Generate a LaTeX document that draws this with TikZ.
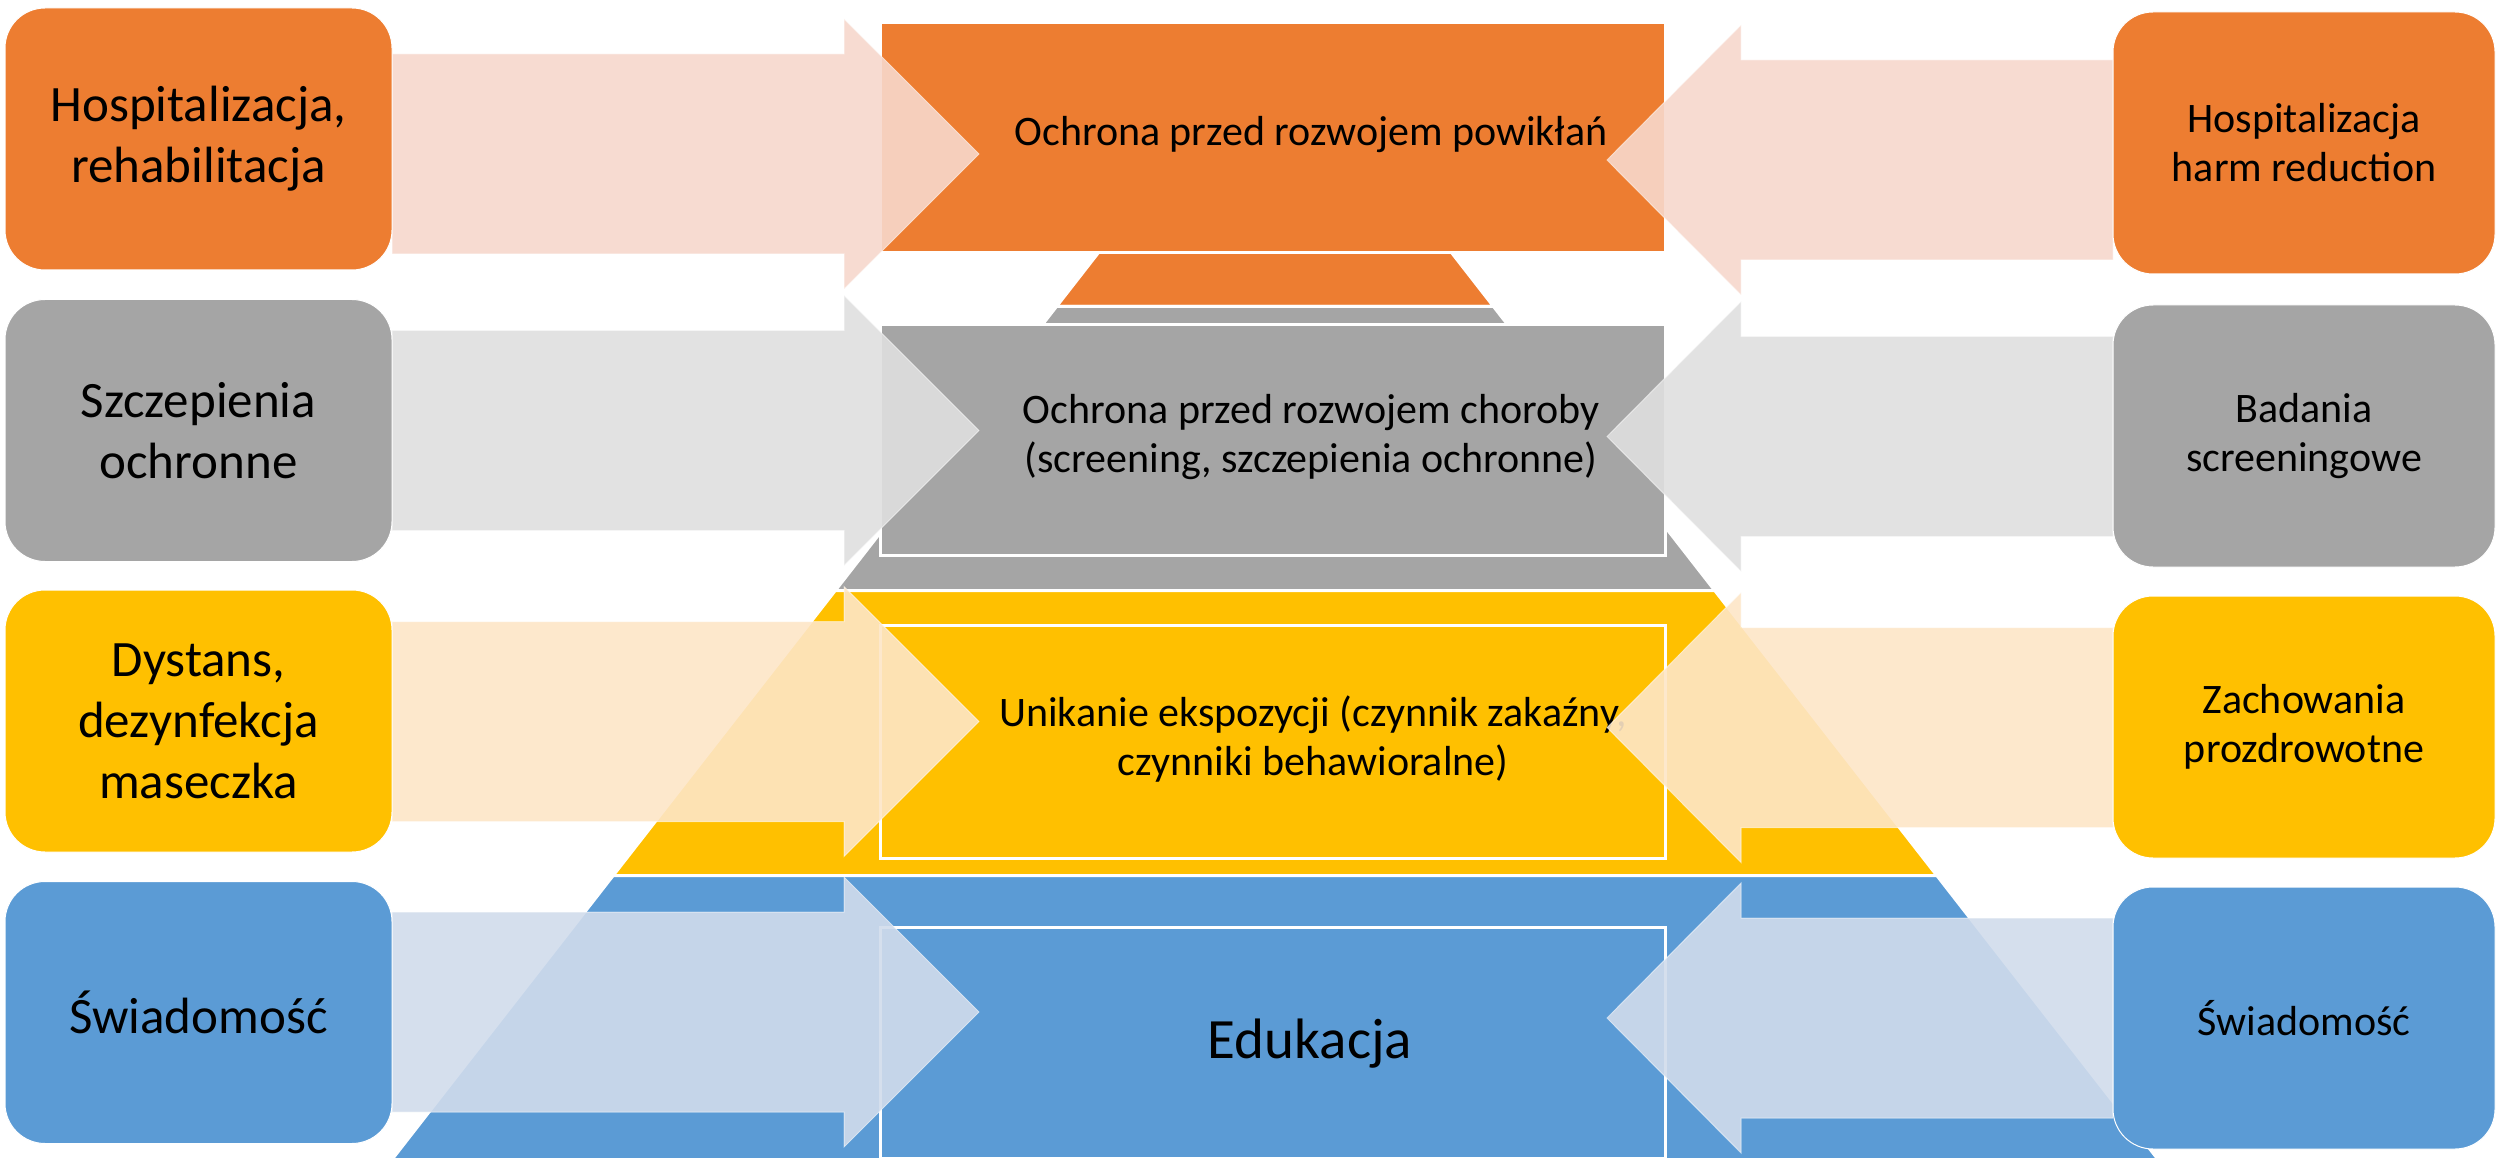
\documentclass[tikz,border=0pt]{standalone}
\usepackage{fontspec}
\setmainfont{Carlito}
\definecolor{cOr}{HTML}{ED7D31}
\definecolor{cGr}{HTML}{A5A5A5}
\definecolor{cYe}{HTML}{FFC000}
\definecolor{cBl}{HTML}{5B9BD5}
\definecolor{aOr}{HTML}{F7D8CC}
\definecolor{aGr}{HTML}{DFDFDF}
\definecolor{aYe}{HTML}{FDE6C7}
\definecolor{aBl}{HTML}{D1DCEC}
\begin{document}
\begin{tikzpicture}[x=0.5pt,y=-0.5pt,
  band/.style={draw=white,line width=1.5pt,line join=miter},
  centerrect/.style={draw=white,line width=1.5pt,inner sep=0pt,outer sep=0pt,minimum width=392.5pt,minimum height=115pt},
  sidebox/.style={draw=white,line width=0.5pt,rounded corners=20pt,inner sep=0pt,outer sep=0pt,minimum height=131pt,align=center,text=black},
  leftbox/.style={sidebox,minimum width=193.5pt,font=\fontsize{25.5}{30.5}\selectfont},
  rightbox/.style={sidebox,minimum width=191pt,font=\fontsize{21}{24.5}\selectfont},
  ctext/.style={align=center,inner sep=0pt,font=\fontsize{21}{24.5}\selectfont},
  blockarrow/.style={fill opacity=0.9,draw=white,draw opacity=0.5,line width=0.5pt,line join=miter}
]
\useasboundingbox (0,0) rectangle (2509,1160);
\fill[white] (0,0) rectangle (2509,1160);

% pyramid bands
\fill[band,fill=cOr] (1275,26) -- (1493.5,306.5) -- (1056.5,306.5) -- cycle;
\fill[band,fill=cGr] (1056.5,306.5) -- (1493.5,306.5) -- (1714.7,590.5) -- (835.3,590.5) -- cycle;
\fill[band,fill=cYe] (835.3,590.5) -- (1714.7,590.5) -- (1936.8,875.5) -- (613.2,875.5) -- cycle;
\fill[band,fill=cBl] (613.2,875.5) -- (1936.8,875.5) -- (2158,1159.5) -- (392,1159.5) -- cycle;

% centre rectangles
\node[centerrect,fill=cOr] (C1) at (1272.5,138) {};
\node[centerrect,fill=cGr] (C2) at (1272.5,440) {};
\node[centerrect,fill=cYe,minimum height=116.5pt] (C3) at (1273,741.5) {};
\node[centerrect,fill=cBl,minimum height=115.5pt] (C4) at (1273,1042.5) {};

\node[ctext] (T1) at (1311,135) {Ochrona przed rozwojem powikłań};
\node[ctext] (T2) at (1311,437) {Ochrona przed rozwojem choroby\\(screening, szczepienia ochronne)};
\node[ctext] (T3) at (1313,739) {Unikanie ekspozycji (czynnik zakaźny,\\czynniki behawioralne)};
\node[ctext,font=\fontsize{28.5}{33}\selectfont] (T4) at (1310,1044) {Edukacja};

% left arrows
\path[blockarrow,fill=aOr] (392,54) -- (844,54) -- (844,19) -- (979,154) -- (844,289) -- (844,254) -- (392,254) -- cycle;
\path[blockarrow,fill=aGr] (392,330.5) -- (844,330.5) -- (844,295.5) -- (979,430.5) -- (844,565.5) -- (844,530.5) -- (392,530.5) -- cycle;
\path[blockarrow,fill=aYe] (392,621.5) -- (844,621.5) -- (844,586.5) -- (979,721.5) -- (844,856.5) -- (844,821.5) -- (392,821.5) -- cycle;
\path[blockarrow,fill=aBl] (392,912) -- (844,912) -- (844,877) -- (979,1012) -- (844,1147) -- (844,1112) -- (392,1112) -- cycle;

% right arrows
\path[blockarrow,fill=aOr] (2113,60) -- (1741,60) -- (1741,25) -- (1607,160) -- (1741,295) -- (1741,260) -- (2113,260) -- cycle;
\path[blockarrow,fill=aGr] (2113,336.5) -- (1741,336.5) -- (1741,301.5) -- (1607,436.5) -- (1741,571.5) -- (1741,536.5) -- (2113,536.5) -- cycle;
\path[blockarrow,fill=aYe] (2113,627.5) -- (1741,627.5) -- (1741,592.5) -- (1607,727.5) -- (1741,862.5) -- (1741,827.5) -- (2113,827.5) -- cycle;
\path[blockarrow,fill=aBl] (2113,918) -- (1741,918) -- (1741,883) -- (1607,1018) -- (1741,1153) -- (1741,1118) -- (2113,1118) -- cycle;

% left boxes
\node[leftbox,fill=cOr] (L1) at (198.5,139) {Hospitalizacja,\\rehabilitacja};
\node[leftbox,fill=cGr] (L2) at (198.5,430.5) {Szczepienia\\ochronne};
\node[leftbox,fill=cYe] (L3) at (198.5,721) {Dystans,\\dezynfekcja\\maseczka};
\node[leftbox,fill=cBl] (L4) at (198.5,1012.5) {Świadomość};

% right boxes
\node[rightbox,fill=cOr] (R1) at (2304,143) {Hospitalizacja\\harm reduction};
\node[rightbox,fill=cGr] (R2) at (2304,436) {Badania\\screeningowe};
\node[rightbox,fill=cYe] (R3) at (2304,727) {Zachowania\\prozdrowotne};
\node[rightbox,fill=cBl] (R4) at (2304,1018) {Świadomość};
\end{tikzpicture}
\end{document}
